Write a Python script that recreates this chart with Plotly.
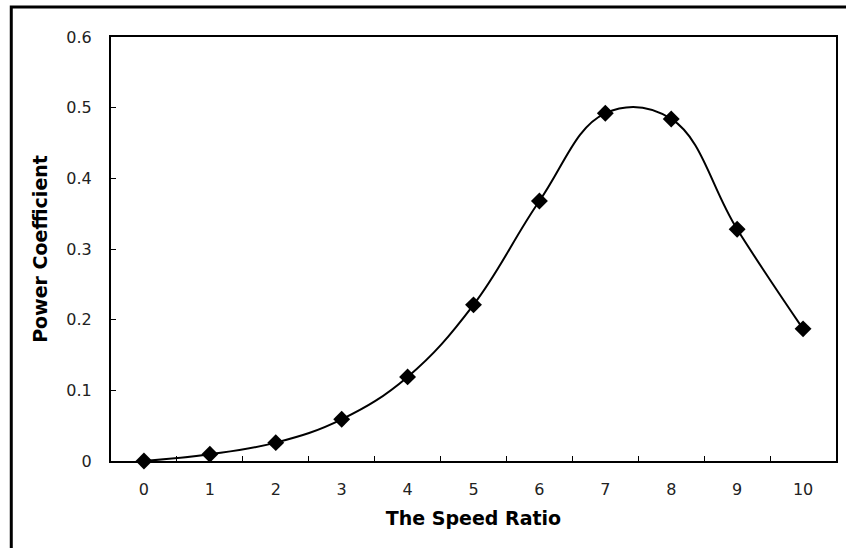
import plotly.graph_objects as go

# Power coefficient versus speed ratio
speed_ratio = ["0", "1", "2", "3", "4", "5", "6", "7", "8", "9", "10"]
power_coeff = [0.0, 0.0095, 0.026, 0.059, 0.119, 0.221, 0.368, 0.492, 0.484, 0.328, 0.187]

y_ticks = [0, 0.1, 0.2, 0.3, 0.4, 0.5, 0.6]
y_labels = ["0", "0.1", "0.2", "0.3", "0.4", "0.5", "0.6"]

W, H = 846, 548
L, R, T, B = 111, 8, 37, 87
pw, ph = W - L - R, H - T - B

fig = go.Figure()
fig.add_trace(go.Scatter(
    x=speed_ratio, y=power_coeff,
    mode="lines+markers",
    line=dict(color="black", width=2, shape="spline", smoothing=1.15),
    marker=dict(symbol="diamond", size=13, color="black"),
    cliponaxis=False,
    showlegend=False,
))

font_family = "DejaVu Sans, Liberation Sans, sans-serif"

fig.update_layout(
    width=W, height=H,
    margin=dict(l=L, r=R, t=T, b=B),
    paper_bgcolor="white", plot_bgcolor="white",
    font=dict(family=font_family, color="#222", size=15),
    xaxis=dict(
        type="category",
        range=[-0.5, 10.5],
        tickson="boundaries",
        ticks="inside", ticklen=5, tickwidth=1, tickcolor="black",
        showline=True, linecolor="black", linewidth=2, mirror=True,
        showgrid=False, zeroline=False,
        tickfont=dict(size=16, family=font_family, color="#222"),
        title=dict(text="<b>The Speed Ratio</b>", standoff=13,
                   font=dict(size=19, family=font_family, color="black")),
        ticklabelstandoff=13,
    ),
    yaxis=dict(
        range=[0, 0.6],
        tickvals=y_ticks, ticktext=y_labels,
        ticks="inside", ticklen=5, tickwidth=1, tickcolor="black",
        showline=True, linecolor="black", linewidth=2, mirror=True,
        showgrid=False, zeroline=False,
        tickfont=dict(size=16, family=font_family, color="#222"),
        title=dict(text="<b>Power Coefficient</b>", standoff=14,
                   font=dict(size=19, family=font_family, color="black")),
        ticklabelstandoff=14,
    ),
    shapes=[
        dict(type="rect", xref="paper", yref="paper",
             x0=(11 - L) / pw, x1=1.1,
             y0=-0.5, y1=1 + (T - 7) / ph,
             line=dict(color="black", width=3), layer="below"),
    ],
)

fig.write_html("out.html")
